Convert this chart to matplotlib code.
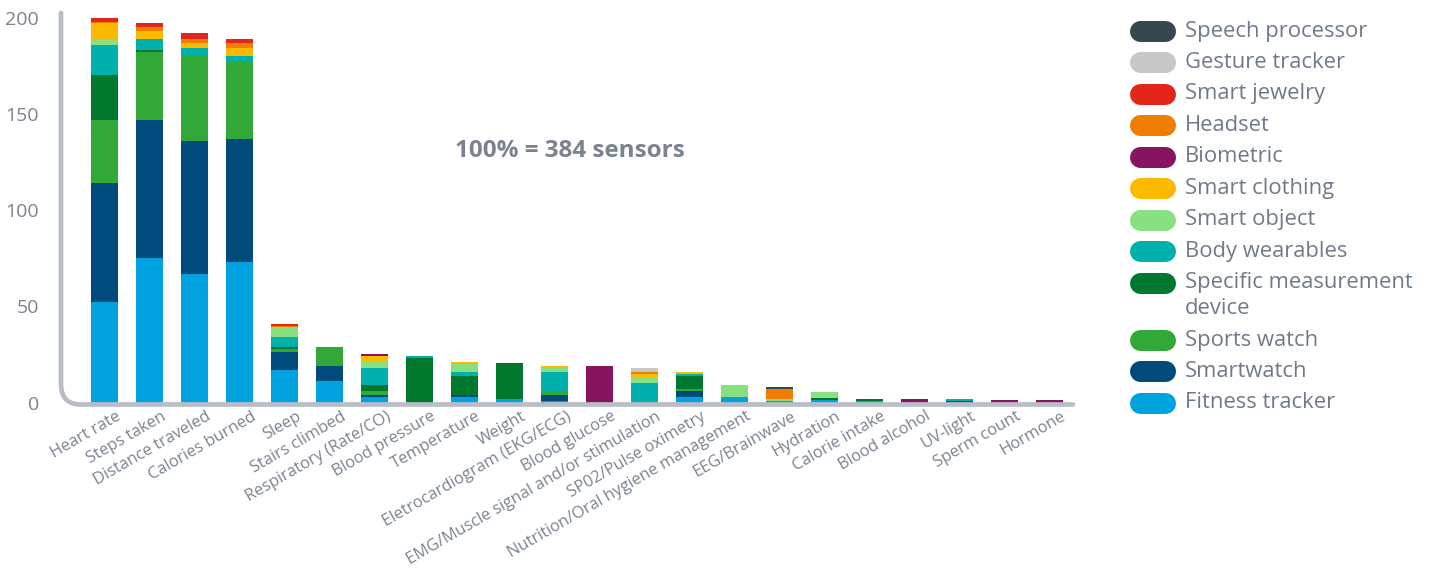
import matplotlib
matplotlib.use("Agg")
import matplotlib.pyplot as plt
import numpy as np
from matplotlib.path import Path
from matplotlib.patches import PathPatch
from matplotlib.transforms import ScaledTranslation

plt.rcParams['font.family'] = ['Open Sans', 'DejaVu Sans']

categories = [
    "Heart rate", "Steps taken", "Distance traveled", "Calories burned", "Sleep",
    "Stairs climbed", "Respiratory (Rate/CO)", "Blood pressure", "Temperature", "Weight",
    "Eletrocardiogram (EKG/ECG)", "Blood glucose", "EMG/Muscle signal and/or stimulation",
    "SP02/Pulse oximetry", "Nutrition/Oral hygiene management", "EEG/Brainwave",
    "Hydration", "Calorie intake", "Blood alcohol", "UV-light", "Sperm count", "Hormone",
]

# stacked from bottom to top
fitness_tracker = [52, 75, 67, 73, 17, 11, 3, 0, 3, 2, 1, 0, 0, 3, 3, 0, 1.5, 1, 0, 0, 0, 0]
smartwatch      = [62, 72, 69, 64, 9, 8, 1, 0, 1, 0, 3, 0, 0, 3, 0, 0, 0, 0, 0, 1, 0, 0]
sports_watch    = [33, 35, 44, 40, 2, 10, 2, 0, 0, 0, 2, 0, 0, 1, 0, 0, 0, 0, 0, 0, 0, 0]
specific_device = [23, 1, 0, 0, 1, 0, 3, 23, 10, 18.5, 0, 0, 0, 7, 0, 0, 1, 1, 0, 0, 0, 0]
body_wearables  = [16, 6, 4, 3, 5, 0, 9, 1, 2, 0, 10, 0, 10, 1, 0, 1, 0, 0, 0, 1, 0, 0]
smart_object    = [3, 0, 0, 0, 5, 0, 3, 0, 4, 0, 2, 0, 3, 0, 6, 1, 3, 0, 0, 0, 0, 0]
smart_clothing  = [8, 4, 3, 4, 0, 0, 3, 0, 1, 0, 1, 0, 2, 1, 0, 0, 0, 0, 0, 0, 0, 0]
biometric       = [0, 0, 0, 0, 0, 0, 1, 0, 0, 0, 0, 19, 0, 0, 0, 0, 0, 0, 2, 0, 1.5, 1.5]
headset         = [1, 2, 2, 3, 1, 0, 0, 0, 0, 0, 0, 0, 1, 0, 0, 5, 0, 0, 0, 0, 0, 0]
smart_jewelry   = [2, 2, 3, 2, 1, 0, 0, 0, 0, 0, 0, 0, 0, 0, 0, 0, 0, 0, 0, 0, 0, 0]
gesture_tracker = [0, 0, 0, 0, 0, 0, 0, 0, 0, 0, 0, 0, 2, 0, 0, 0, 0, 0, 0, 0, 0, 0]
speech_processor = [0, 0, 0, 0, 0, 0, 0, 0, 0, 0, 0, 0, 0, 0, 0, 1, 0, 0, 0, 0, 0, 0]

series_names = ["Fitness tracker", "Smartwatch", "Sports watch", "Specific measurement\ndevice",
                "Body wearables", "Smart object", "Smart clothing", "Biometric", "Headset",
                "Smart jewelry", "Gesture tracker", "Speech processor"]
series_values = [fitness_tracker, smartwatch, sports_watch, specific_device, body_wearables,
                 smart_object, smart_clothing, biometric, headset, smart_jewelry,
                 gesture_tracker, speech_processor]
series_colors = ["#00a3e0", "#004a7c", "#32a838", "#00782d", "#00b0ad", "#88e080",
                 "#fbb900", "#86145e", "#ef7d00", "#e32619", "#c8c8c8", "#36474f"]

yticks = [0, 50, 100, 150, 200]
note = "100% = 384 sensors"

W, H = 1429, 573
fig = plt.figure(figsize=(W / 100, H / 100), dpi=100)

# main axes placed in pixel terms
L, R = 61, 1075
y0_px, ytop_px = 402.5, 14
px_per_unit = 1.924
step = 45.0
x0_px = 104.8
ax = fig.add_axes([L / W, (H - y0_px) / H, (R - L) / W, (y0_px - ytop_px) / H])
ax.set_xlim((L - x0_px) / step, (R - x0_px) / step)
ax.set_ylim(0, (y0_px - ytop_px) / px_per_unit)

x = np.arange(len(categories))
bottom = np.zeros(len(categories))
for vals, col in zip(series_values, series_colors):
    v = np.array(vals, dtype=float)
    ax.bar(x, v, width=0.6, bottom=bottom, color=col, linewidth=0)
    bottom += v

for s in ax.spines.values():
    s.set_visible(False)
ax.set_facecolor("none")
txtc = "#7a8391"
ax.set_yticks(yticks)
ax.set_yticklabels([str(t) for t in yticks], fontsize=14, color=txtc)
ax.tick_params(axis='y', length=0, pad=16)
ax.set_xticks(x)
ax.set_xticklabels(categories, rotation=30, ha='right', rotation_mode='anchor',
                   fontsize=11.8, color=txtc,
                   family=['Liberation Sans Narrow', 'Open Sans', 'DejaVu Sans'])
ax.tick_params(axis='x', length=0, pad=0)
off = ScaledTranslation(11 / 100, -6 / 100, fig.dpi_scale_trans)
for lab in ax.get_xticklabels():
    lab.set_transform(lab.get_transform() + off)

ax.text((570 - x0_px) / step, (y0_px - 151) / px_per_unit, note, ha='center', va='center',
        fontsize=17.5, fontweight='bold', color=txtc)

# overlay in pixel coordinates for frame and legend
ov = fig.add_axes([0, 0, 1, 1])
ov.set_xlim(0, W)
ov.set_ylim(H, 0)
ov.axis('off')
ov.set_facecolor("none")

verts = [(61, 13), (61, 384), (61, 404.5), (81, 404.5), (1073, 404.5)]
codes = [Path.MOVETO, Path.LINETO, Path.CURVE3, Path.CURVE3, Path.LINETO]
ov.add_patch(PathPatch(Path(verts, codes), fill=False, edgecolor="#b9bec6",
                       linewidth=3.4, capstyle='round', joinstyle='round'))

# legend (top entry = last series)
y = 31
for name, col in zip(series_names[::-1], series_colors[::-1]):
    ov.plot([1140.5, 1165.5], [y, y], color=col, linewidth=21 * 0.72,
            solid_capstyle='round')
    lines = name.split("\n")
    for k, ln in enumerate(lines):
        ov.text(1185, y + 26 * k, ln, ha='left', va='center', fontsize=15.8,
                color="#6f7a89")
    y += 31.45 + (len(lines) - 1) * 26

fig.savefig("out.png", dpi=100)
